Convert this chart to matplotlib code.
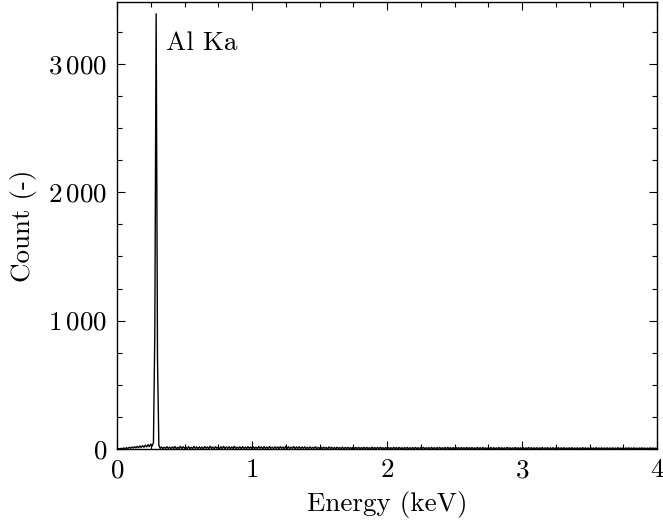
import numpy as np
import matplotlib
matplotlib.use("Agg")
import matplotlib.pyplot as plt
from matplotlib.ticker import FuncFormatter, MultipleLocator

plt.rcParams['mathtext.fontset'] = 'cm'
plt.rcParams['font.family'] = ['cmr10', 'DejaVu Serif']
plt.rcParams['axes.unicode_minus'] = False

# Spectrum: channel energies (keV), 0.01 keV spacing, and counts
energy_start = 0.0
energy_step = 0.01
counts = [
    0, 2, 1, 5, 2, 8, 3, 10, 4, 13, 6, 15, 7, 18, 9, 20, 10, 24, 12, 26,
    14, 30, 16, 34, 18, 38, 22, 50, 900, 3390, 700, 30, 4, 16, 3, 14, 5, 18, 4, 15,
    3, 16, 5, 19, 2, 14, 4, 21, 3, 17, 6, 15, 2, 18, 4, 13, 3, 20, 5, 16,
    2, 17, 4, 14, 3, 19, 5, 16, 2, 22, 4, 15, 3, 18, 6, 14, 2, 17, 4, 20,
    3, 15, 5, 18, 2, 16, 4, 21, 3, 14, 5, 17, 2, 19, 4, 15, 3, 18, 5, 16,
    2, 17, 4, 14, 3, 20, 5, 16, 2, 18, 4, 15, 3, 19, 5, 14, 2, 17, 4, 16,
    3, 18, 5, 15, 2, 21, 4, 17, 3, 14, 5, 19, 2, 16, 4, 18, 3, 15, 5, 17,
    2, 14, 4, 16, 3, 13, 5, 17, 2, 12, 4, 15, 3, 14, 5, 12, 2, 16, 4, 13,
    3, 12, 2, 14, 4, 11, 3, 15, 2, 12, 4, 13, 3, 11, 2, 14, 4, 12, 3, 13,
    2, 11, 3, 13, 2, 12, 4, 10, 3, 14, 2, 11, 3, 12, 2, 13, 4, 10, 3, 12,
    2, 11, 3, 10, 2, 13, 3, 11, 2, 12, 3, 10, 2, 11, 4, 12, 2, 10, 3, 11,
    2, 12, 3, 10, 2, 11, 3, 13, 2, 10, 3, 11, 2, 12, 3, 10, 2, 11, 3, 12,
    2, 10, 3, 11, 2, 12, 3, 10, 2, 11, 2, 13, 3, 10, 2, 11, 3, 10, 2, 12,
    2, 10, 3, 11, 2, 9, 3, 12, 2, 10, 2, 11, 3, 9, 2, 10, 3, 11, 2, 10,
    2, 9, 3, 11, 2, 10, 2, 9, 3, 12, 2, 10, 2, 9, 3, 11, 2, 10, 2, 9,
    2, 10, 2, 9, 3, 11, 2, 10, 2, 9, 3, 10, 2, 9, 2, 11, 2, 9, 3, 10,
    2, 9, 2, 10, 2, 8, 3, 10, 2, 9, 2, 10, 2, 8, 3, 9, 2, 10, 2, 8,
    2, 9, 2, 8, 3, 10, 2, 9, 2, 8, 2, 9, 3, 8, 2, 10, 2, 8, 2, 9,
    2, 8, 2, 9, 2, 8, 3, 9, 2, 8, 2, 10, 2, 8, 2, 9, 2, 8, 3, 9,
    2, 8, 2, 9, 2, 7, 2, 8, 3, 9, 2, 8, 2, 7, 2, 9, 2, 8, 2, 7,
    2,
]
energy = energy_start + energy_step * np.arange(len(counts))

peak_label = "Al Ka"
peak_label_pos = (0.365, 3160)

x_ticks = [0, 1, 2, 3, 4]
y_ticks = [0, 1000, 2000, 3000]

fig = plt.figure(figsize=(6.63, 5.24), dpi=100)
ax = fig.add_axes([117 / 663, 1 - 449 / 524, 540 / 663, 447 / 524])

ax.plot(energy, counts, color='black', linewidth=1.0)
ax.text(peak_label_pos[0], peak_label_pos[1], peak_label, ha='left', va='center',
        fontsize=19.5)

ax.set_xlim(0, 4)
ax.set_ylim(0, 3482)
ax.set_xticks(x_ticks)
ax.set_yticks(y_ticks)
ax.xaxis.set_minor_locator(MultipleLocator(0.25))
ax.yaxis.set_minor_locator(MultipleLocator(250))


def yfmt(v, pos):
    v = int(round(v))
    if v >= 1000:
        return r'$%d\,%03d$' % (v // 1000, v % 1000)
    return r'$%d$' % v


ax.yaxis.set_major_formatter(FuncFormatter(yfmt))
ax.xaxis.set_major_formatter(FuncFormatter(lambda v, p: r'$%d$' % int(round(v))))

ax.tick_params(which='both', direction='in', top=True, right=True,
               labelsize=19.5, width=0.8)
ax.tick_params(which='major', length=6, pad=7)
ax.tick_params(which='minor', length=3.5)
for s in ax.spines.values():
    s.set_linewidth(1.0)

ax.set_xlabel('Energy (keV)', fontsize=19.5, labelpad=6)
ax.set_ylabel('Count (-)', fontsize=19.5, labelpad=8)

fig.savefig('out.png', dpi=100)
